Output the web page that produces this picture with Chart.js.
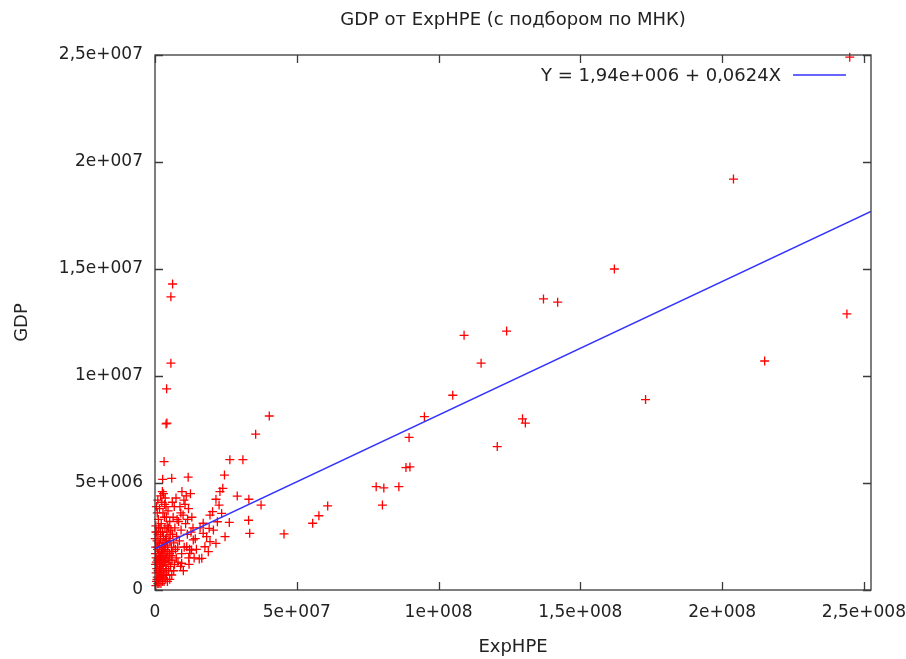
<!DOCTYPE html>
<html>
<head>
<meta charset="utf-8">
<script src="https://cdn.jsdelivr.net/npm/chart.js@4"></script>
<style>
  html, body { margin: 0; padding: 0; background: #fff; }
  #wrap { width: 906px; height: 659px; }
</style>
</head>
<body>
<div id="wrap"><canvas id="chart" width="906" height="659"></canvas></div>
<script>
// values in millions: [ExpHPE, GDP]
const points = [
    [245, 24.9], [204, 19.2], [162, 15.0], [137, 13.6], [142, 13.45], [244, 12.9], [109, 11.9], [124, 12.1],
    [115, 10.6], [215, 10.7], [105, 9.1], [173, 8.9], [95, 8.1], [129.6, 8.0], [130.6, 7.8], [120.7, 6.7],
    [89.6, 7.13], [88.5, 5.72], [89.9, 5.75], [78, 4.83], [80.7, 4.77], [86, 4.83], [80.2, 3.97], [60.9, 3.93],
    [57.8, 3.47], [55.6, 3.12], [45.5, 2.62],
    [40.3, 8.13], [35.5, 7.28], [26.4, 6.09], [31.0, 6.09], [24.5, 5.37], [29.0, 4.39], [33.1, 4.24], [37.4, 3.97],
    [33.0, 3.26], [33.4, 2.65],
    [6.2, 14.3], [5.6, 13.7], [5.6, 10.6], [4.1, 9.4], [4.2, 7.8], [3.9, 7.76], [3.2, 6.0], [2.7, 5.17], [5.9, 5.22], [11.7, 5.27],
    [23.9, 4.75], [22.9, 4.6], [21.5, 4.24], [22.6, 3.97], [23.5, 3.58], [20.3, 3.66], [19.4, 3.5], [26.2, 3.16],
    [22.0, 3.19], [17.0, 3.12], [19.1, 2.88], [20.6, 2.8], [24.7, 2.49], [18.2, 2.49], [21.5, 2.18], [19.4, 2.26],
    [17.6, 2.02], [18.8, 1.79], [16.5, 1.48], [17.0, 2.65], [15.9, 2.9], [15.6, 1.45], [13.5, 2.34], [12.9, 1.87],
    [9.5, 4.6], [11.0, 4.4], [12.5, 4.5], [10.2, 4.2], [8.8, 3.9], [11.8, 3.8], [9.9, 3.5], [8.3, 3.2],
    [10.8, 3.1], [9.2, 2.8], [11.4, 2.6], [8.6, 2.3], [10.3, 2.0], [12.2, 1.9], [9.4, 1.7], [11.9, 1.5],
    [8.1, 1.3], [10.0, 0.9], [12.0, 1.2], [9.0, 1.1], [11.2, 2.02], [12.3, 1.71], [9.4, 1.25], [13.4, 2.9],
    [14.2, 2.4], [13.0, 3.4], [14.6, 1.9], [12.7, 2.7], [10.6, 4.0], [9.1, 3.6], [13.8, 1.5], [11.5, 3.3],
    [2.0, 4.4], [3.0, 4.5], [3.6, 4.3], [2.4, 4.1], [1.6, 3.8], [2.8, 3.6], [3.9, 3.9], [1.2, 3.3],
    [2.2, 3.1], [3.3, 3.4], [4.3, 3.0], [1.8, 2.9], [0.8, 3.6], [0.5, 3.9], [4.6, 3.7], [2.6, 4.6],
    [3.4, 4.0], [1.0, 4.2], [4.0, 3.4], [0.3, 3.0], [5.2, 3.2], [5.6, 2.8], [6.4, 3.4], [7.0, 2.9],
    [6.8, 3.9], [7.4, 4.3], [6.1, 4.1],
    [0.5, 0.4], [0.8, 0.6], [1.2, 0.5], [1.5, 0.8], [2.0, 0.7], [2.4, 0.9], [0.6, 1.0], [1.0, 1.2],
    [1.8, 1.1], [2.2, 1.4], [2.9, 1.0], [3.3, 1.3], [0.4, 1.5], [1.3, 1.7], [2.6, 1.8], [3.1, 1.6],
    [3.8, 1.2], [4.2, 1.5], [0.9, 1.9], [1.6, 2.1], [2.1, 0.3], [2.7, 0.5], [3.5, 0.8], [4.0, 1.0],
    [4.6, 1.3], [5.1, 1.7], [3.6, 2.0], [0.7, 2.3], [1.1, 2.6], [1.9, 2.4], [2.5, 2.2], [3.0, 2.5],
    [4.4, 2.1], [5.3, 2.3], [0.3, 0.2], [1.4, 0.3], [2.3, 0.6], [3.2, 0.4], [4.1, 0.7], [4.8, 0.9],
    [5.5, 1.1], [6.0, 1.4], [6.3, 1.8], [5.8, 2.0], [4.9, 2.4], [0.2, 1.7], [0.1, 2.4], [0.2, 2.0],
    [0.6, 2.7], [1.5, 1.4], [2.8, 1.3], [3.4, 1.9], [1.7, 0.5], [2.5, 1.2], [3.9, 1.7], [4.5, 1.8],
    [5.0, 1.4], [5.7, 1.6], [6.6, 2.2], [7.2, 1.9], [7.6, 2.5], [6.9, 1.2], [0.4, 0.8], [1.1, 0.9],
    [1.9, 1.6], [2.9, 2.0], [3.7, 2.4], [4.2, 2.7], [0.9, 1.4], [1.4, 2.2], [2.3, 1.9], [3.0, 0.7],
    [3.8, 0.5], [4.4, 0.4], [1.0, 0.3], [0.7, 0.5], [1.6, 1.2], [2.1, 1.0], [2.7, 2.7], [3.5, 2.9],
    [4.8, 2.9], [5.4, 2.6], [6.2, 2.6], [7.8, 3.3], [8.0, 2.0], [7.5, 1.5], [6.6, 0.9], [5.9, 0.7],
    [5.2, 0.5], [0.2, 1.2], [0.3, 2.7], [0.8, 2.0], [1.3, 2.9], [2.0, 2.7], [3.2, 2.2], [4.0, 2.3],
    [1.7, 1.8], [2.4, 1.6], [3.6, 1.5], [0.5, 1.3], [1.2, 1.5], [2.6, 0.4]
];

// least squares fit, Y = a + bX (millions)
const fitA = 1.94;
const fitB = 0.0624;
const xRange = [0, 252.5];
const yRange = [0, 25];

const xTickValues = [0, 50, 100, 150, 200, 250];
const xTickLabels = ['0', '5e+007', '1e+008', '1,5e+008', '2e+008', '2,5e+008'];
const yTickValues = [0, 5, 10, 15, 20, 25];
const yTickLabels = ['0', '5e+006', '1e+007', '1,5e+007', '2e+007', '2,5e+007'];

const titleText = 'GDP от ExpHPE (с подбором по МНК)';
const legendText = 'Y = 1,94e+006 + 0,0624X';
const xTitle = 'ExpHPE';
const yTitle = 'GDP';

const FAMILY = '"DejaVu Sans", Verdana, sans-serif';
const FONT = '18px ' + FAMILY;
const TEXT = '#222';
const FRAME = '#3a3a3a';
const BLUE = '#3333ff';

const gnuFrame = {
    id: 'gnuFrame',
    afterDraw(chart) {
        const ctx = chart.ctx;
        const a = chart.chartArea;
        const xs = chart.scales.x, ys = chart.scales.y;
        ctx.save();
        ctx.strokeStyle = FRAME;
        ctx.lineWidth = 1.3;
        ctx.strokeRect(a.left, a.top, a.right - a.left, a.bottom - a.top);
        ctx.beginPath();
        xTickValues.forEach(v => {
            const px = Math.round(xs.getPixelForValue(v)) + 0.5;
            ctx.moveTo(px, a.bottom); ctx.lineTo(px, a.bottom - 8);
            ctx.moveTo(px, a.top); ctx.lineTo(px, a.top + 8);
        });
        yTickValues.forEach(v => {
            const py = Math.round(ys.getPixelForValue(v)) + 0.5;
            ctx.moveTo(a.left, py); ctx.lineTo(a.left + 8, py);
            ctx.moveTo(a.right, py); ctx.lineTo(a.right - 8, py);
        });
        ctx.stroke();

        ctx.fillStyle = TEXT;
        ctx.font = FONT;
        ctx.textBaseline = 'middle';
        ctx.textAlign = 'center';
        const cx = (a.left + a.right) / 2;
        ctx.fillText(titleText, cx, 20);
        ctx.fillText(xTitle, cx, 647);
        ctx.save();
        ctx.translate(22, (a.top + a.bottom) / 2);
        ctx.rotate(-Math.PI / 2);
        ctx.fillText(yTitle, 0, 0);
        ctx.restore();

        // legend
        ctx.textAlign = 'right';
        ctx.fillText(legendText, 781, 76);
        ctx.strokeStyle = BLUE;
        ctx.lineWidth = 1.5;
        ctx.beginPath();
        ctx.moveTo(793, 75); ctx.lineTo(846, 75);
        ctx.stroke();
        ctx.restore();
    }
};

new Chart(document.getElementById('chart'), {
    type: 'scatter',
    data: {
        datasets: [
            {
                label: 'fit',
                type: 'line',
                order: 0,
                data: [
                    { x: xRange[0], y: fitA + fitB * xRange[0] },
                    { x: xRange[1], y: fitA + fitB * xRange[1] }
                ],
                borderColor: BLUE,
                borderWidth: 1.5,
                pointRadius: 0,
                fill: false
            },
            {
                label: 'GDP',
                order: 1,
                data: points.map(p => ({ x: p[0], y: p[1] })),
                pointStyle: 'cross',
                pointRadius: 4.5,
                pointHoverRadius: 4.5,
                borderColor: '#ff0000',
                backgroundColor: '#ff0000',
                borderWidth: 1.3,
                clip: 6
            }
        ]
    },
    options: {
        responsive: false,
        devicePixelRatio: 1,
        animation: false,
        events: [],
        layout: { padding: { top: 55, right: 35, left: 0, bottom: 0 } },
        plugins: { legend: { display: false }, tooltip: { enabled: false } },
        scales: {
            x: {
                type: 'linear',
                min: xRange[0],
                max: xRange[1],
                grid: { display: false, drawTicks: false },
                border: { display: false },
                afterBuildTicks: s => { s.ticks = xTickValues.map(v => ({ value: v })); },
                afterFit: s => { s.height = 69; s.paddingLeft = 0; s.paddingRight = 0; },
                ticks: {
                    padding: 12,
                    color: TEXT,
                    font: { family: FAMILY, size: 17 },
                    maxRotation: 0,
                    autoSkip: false,
                    callback: v => xTickLabels[xTickValues.indexOf(v)]
                }
            },
            y: {
                type: 'linear',
                min: yRange[0],
                max: yRange[1],
                grid: { display: false, drawTicks: false },
                border: { display: false },
                afterBuildTicks: s => { s.ticks = yTickValues.map(v => ({ value: v })); },
                afterFit: s => { s.width = 155; s.paddingTop = 0; s.paddingBottom = 0; },
                ticks: {
                    padding: 12,
                    color: TEXT,
                    font: { family: FAMILY, size: 17 },
                    autoSkip: false,
                    callback: v => yTickLabels[yTickValues.indexOf(v)]
                }
            }
        }
    },
    plugins: [gnuFrame]
});
</script>
</body>
</html>
